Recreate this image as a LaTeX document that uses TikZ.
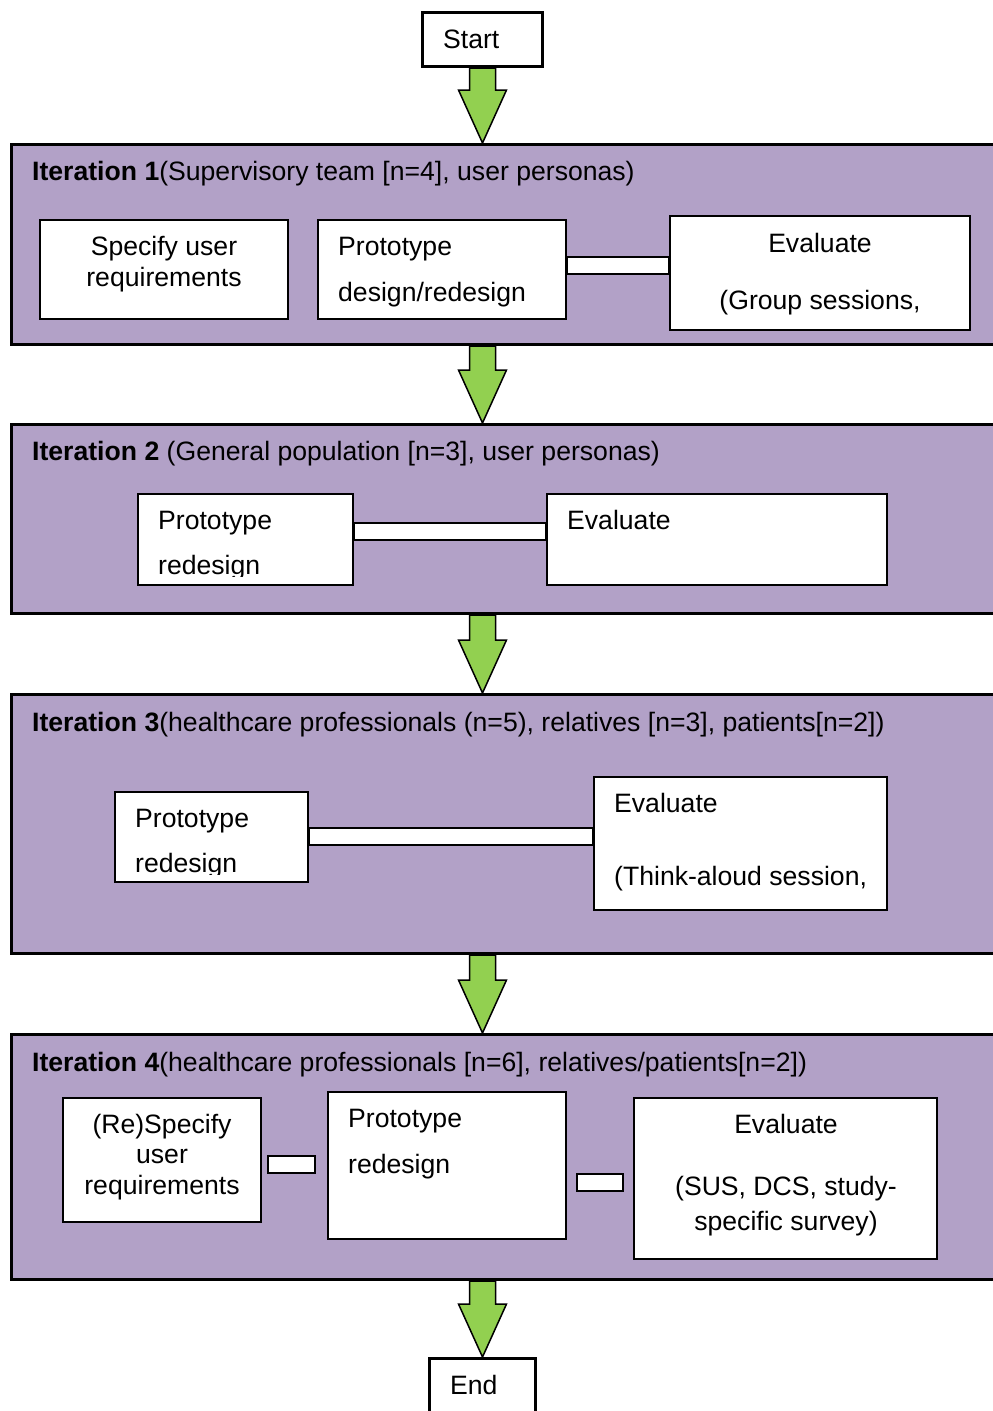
\documentclass[tikz,border=0pt]{standalone}
\usepackage{fontspec}
\setmainfont{Liberation Sans}
\usetikzlibrary{calc}
\definecolor{panelpurple}{HTML}{B2A1C7}
\definecolor{arrowgreen}{HTML}{92D050}

% thick green block arrow from point #1 down to tip #2
\newcommand{\fatarrow}[2]{%
  \draw[flow] ($(#1)+(-13,0)$) -- ($(#2)+(-13,-53)$) -- ($(#2)+(-24,-53)$)
    -- (#2) -- ($(#2)+(24,-53)$) -- ($(#2)+(13,-53)$) -- ($(#1)+(13,0)$) -- cycle;}

\begin{document}
\begin{tikzpicture}[x=1pt,y=-1pt,
  panel/.style={draw=black, line width=3pt, fill=panelpurple, rectangle, inner sep=0pt, anchor=north west},
  box/.style={draw=black, line width=2pt, fill=white, rectangle, inner sep=0pt, anchor=north west},
  termbox/.style={draw=black, line width=3pt, fill=white, rectangle, inner sep=0pt, anchor=north west},
  bar/.style={draw=black, line width=1.3pt, fill=white},
  flow/.style={draw=black, line width=1.5pt, fill=arrowgreen, line join=miter},
  txt/.style={inner sep=0pt, font=\fontsize{26.6}{30}\selectfont, anchor=base west},
  ctxt/.style={txt, anchor=base},
]
\useasboundingbox (0,0) rectangle (993,1411);
\clip (0,0) rectangle (993,1411);

% terminals (node positions are outer edges of the frame)
\node[termbox, minimum width=120, minimum height=54] (start) at (421,11) {};
\node[txt] (starttxt) at (443,48) {Start};

% iteration panels
\node[panel, minimum width=1000, minimum height=200] (p1) at (10,143) {};
\node[panel, minimum width=1000, minimum height=189] (p2) at (10,423) {};
\node[panel, minimum width=1000, minimum height=259] (p3) at (10,693) {};
\node[panel, minimum width=1000, minimum height=245] (p4) at (10,1033) {};

\node[termbox, minimum width=106, minimum height=80] (end) at (428,1357) {};
\node[txt] (endtxt) at (450,1394) {End};

% arrows between stages
\coordinate (t1) at (p1.north -| start.south);
\coordinate (s2) at (p1.south -| start.south);
\coordinate (t2) at (p2.north -| start.south);
\coordinate (s3) at (p2.south -| start.south);
\coordinate (t3) at (p3.north -| start.south);
\coordinate (s4) at (p3.south -| start.south);
\coordinate (t4) at (p4.north -| start.south);
\coordinate (s5) at (p4.south -| start.south);
\coordinate (t5) at (end.north -| start.south);
\fatarrow{start.south}{t1}
\fatarrow{s2}{t2}
\fatarrow{s3}{t3}
\fatarrow{s4}{t4}
\fatarrow{s5}{t5}

% ---- Iteration 1
\node[txt] (h1) at (32,180) {\textbf{Iteration 1}(Supervisory team [n=4], user personas)};
\node[box, minimum width=248, minimum height=99] (a1) at (39,219) {};
\node[box, minimum width=248, minimum height=99] (b1) at (317,219) {};
\node[box, minimum width=300, minimum height=114] (c1) at (669,215) {};
\draw[bar] (b1.east |- 0,257) rectangle (c1.west |- 0,274);
\node[ctxt] (a1l1) at (164,255) {Specify user};
\node[ctxt] (a1l2) at (164,286) {requirements};
\node[txt] (b1l1) at (338,255) {Prototype};
\node[txt] (b1l2) at (338,301) {design/redesign};
\node[ctxt] (c1l1) at (820,252) {Evaluate};
\node[ctxt] (c1l2) at (820,309) {(Group sessions,};

% ---- Iteration 2
\node[txt] (h2) at (32,460) {\textbf{Iteration 2} (General population [n=3], user personas)};
\node[box, minimum width=215, minimum height=91] (a2) at (137,493) {};
\node[box, minimum width=340, minimum height=91] (b2) at (546,493) {};
\draw[bar] (a2.east |- 0,523) rectangle (b2.west |- 0,540);
\node[txt] (a2l1) at (158,529) {Prototype};
\begin{scope}
  \clip (140,540) rectangle (350,576);
  \node[txt] (a2l2) at (158,574) {redesign};
\end{scope}
\node[txt] (b2l1) at (567,529) {Evaluate};

% ---- Iteration 3
\node[txt] (h3) at (32,731) {\textbf{Iteration 3}(healthcare professionals (n=5), relatives [n=3], patients[n=2])};
\node[box, minimum width=193, minimum height=90] (a3) at (114,791) {};
\node[box, minimum width=293, minimum height=133] (b3) at (593,776) {};
\draw[bar] (a3.east |- 0,828) rectangle (b3.west |- 0,845);
\node[txt] (a3l1) at (135,827) {Prototype};
\begin{scope}
  \clip (117,840) rectangle (305,874);
  \node[txt] (a3l2) at (135,872) {redesign};
\end{scope}
\node[txt] (b3l1) at (614,812) {Evaluate};
\node[txt] (b3l2) at (614,885) {(Think-aloud session,};

% ---- Iteration 4
\node[txt] (h4) at (32,1071) {\textbf{Iteration 4}(healthcare professionals [n=6], relatives/patients[n=2])};
\node[box, minimum width=198, minimum height=124] (a4) at (62,1097) {};
\node[box, minimum width=238, minimum height=147] (b4) at (327,1091) {};
\node[box, minimum width=303, minimum height=161] (c4) at (633,1097) {};
\draw[bar] (268,1156) rectangle (315,1173);
\draw[bar] (577,1174) rectangle (623,1191);
\node[ctxt] (a4l1) at (162,1133) {(Re)Specify};
\node[ctxt] (a4l2) at (162,1163) {user};
\node[ctxt] (a4l3) at (162,1194) {requirements};
\node[txt] (b4l1) at (348,1127) {Prototype};
\node[txt] (b4l2) at (348,1173) {redesign};
\node[ctxt] (c4l1) at (786,1133) {Evaluate};
\node[ctxt] (c4l2) at (786,1195) {(SUS, DCS, study-};
\node[ctxt] (c4l3) at (786,1230) {specific survey)};
\end{tikzpicture}
\end{document}
